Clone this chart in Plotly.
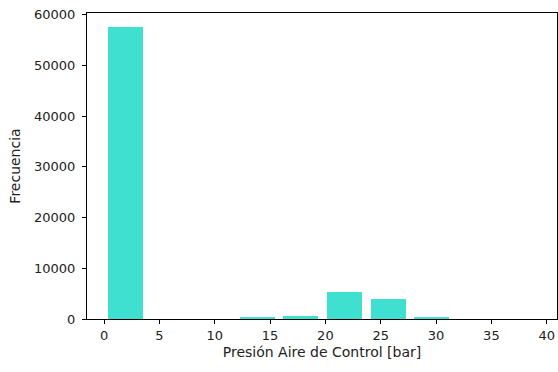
import plotly.graph_objects as go

# Histogram of control-air pressure: 10 bins from 0 to ~39.5 bar
bin_start = 0.0
bin_width = 3.95
counts = [57500, 0, 0, 300, 600, 5400, 3950, 250, 0, 0]
x_ticks = [0, 5, 10, 15, 20, 25, 30, 35, 40]
y_ticks = [0, 10000, 20000, 30000, 40000, 50000, 60000]

centers = [bin_start + (i + 0.5) * bin_width for i in range(len(counts))]

fig = go.Figure(
    go.Bar(
        x=centers,
        y=counts,
        width=bin_width * 0.8,
        marker=dict(color="#40E0D0", line=dict(width=0)),
    )
)

axis_common = dict(
    showline=True,
    mirror=True,
    linecolor="black",
    linewidth=1,
    ticks="outside",
    ticklen=4,
    tickcolor="black",
    tickwidth=1,
    showgrid=False,
    zeroline=False,
    tickfont=dict(family="DejaVu Sans", size=13, color="#222"),
)

fig.update_xaxes(
    range=[-1.54, 40.93],
    tickvals=x_ticks,
    title=dict(text="Presión Aire de Control [bar]", font=dict(family="DejaVu Sans", size=14, color="#222"), standoff=5),
    **axis_common,
)
fig.update_yaxes(
    range=[0, 60300],
    tickvals=y_ticks,
    tickformat="d",
    ticklabelstandoff=4,
    title=dict(text="Frecuencia", font=dict(family="DejaVu Sans", size=14, color="#222"), standoff=10),
    **axis_common,
)

fig.update_layout(
    width=558,
    height=372,
    margin=dict(l=87, r=1, t=13, b=53),
    plot_bgcolor="white",
    paper_bgcolor="white",
    showlegend=False,
    bargap=0,
)

fig.write_html("out.html")
